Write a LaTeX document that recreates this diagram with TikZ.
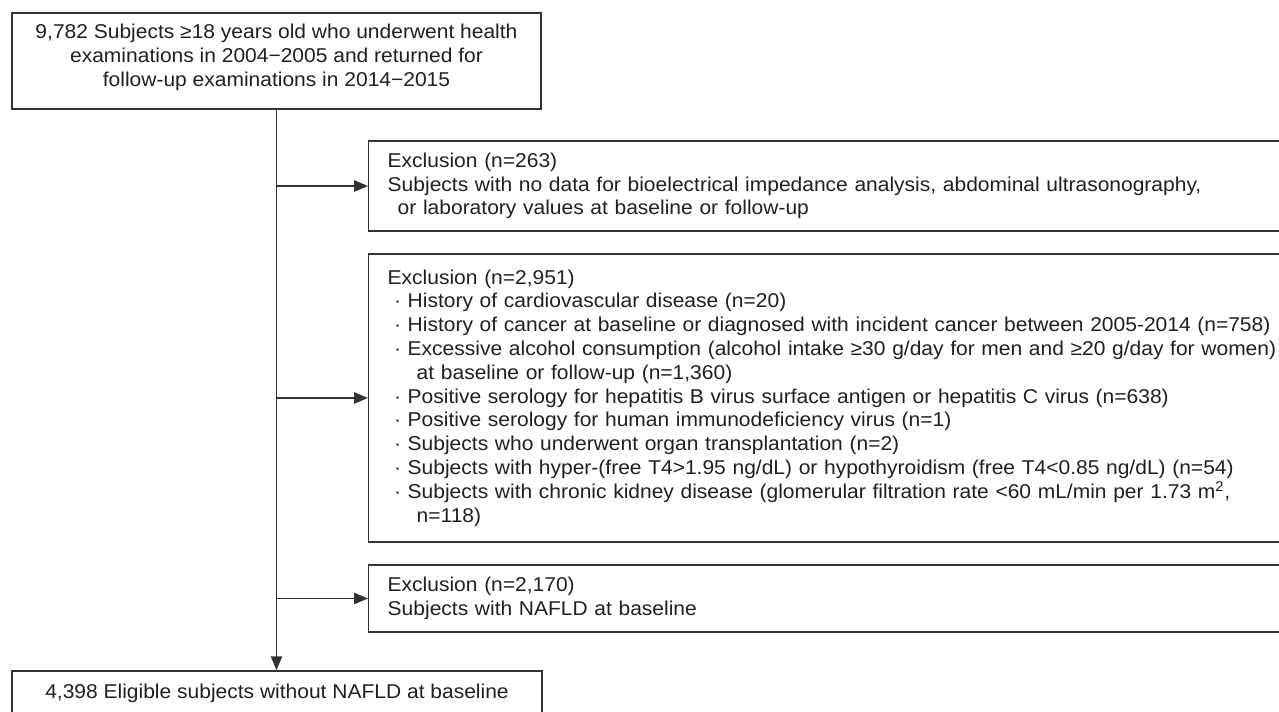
\documentclass[tikz,border=0pt]{standalone}
\usepackage{fontspec}
\setmainfont[FakeStretch=1.05]{Liberation Sans}
\usetikzlibrary{arrows.meta}
\definecolor{linec}{HTML}{333333}
\definecolor{txtc}{HTML}{231F20}
\newcommand\fs{\fontsize{15pt}{17.85pt}\selectfont}
\newcommand\bul{\makebox[1em]{·}}
\begin{document}
\begin{tikzpicture}[x=0.75pt,y=-0.75pt,
  box/.style={draw=linec, line width=1.1pt, fill=white, inner sep=0pt, text=txtc, font=\fs},
  exbox/.style={box, anchor=west, align=left, text width=720pt, inner xsep=14.25pt},
  flow/.style={draw=linec, line width=1.1pt},
  arr/.style={flow, -{Triangle[length=10.5pt,width=8.5pt]}}]
\useasboundingbox (0,0) rectangle (1279,711);
\fill[white] (0,0) rectangle (1279,711);
\clip (0,0) rectangle (1279,711);
\node[box, minimum width=396.75pt, minimum height=72pt, align=center, text depth=9pt] (top) at (276.5,61)
  {9,782 Subjects ≥18 years old who underwent health\\examinations in 2004−2005 and returned for\\follow-up examinations in 2014−2015};
\node[box, minimum width=397.5pt, minimum height=33pt] (res) at (277,693)
  {4,398 Eligible subjects without NAFLD at baseline};
\node[exbox, minimum height=67.5pt] (ex1) at (368,186)
  {Exclusion (n=263)\\
   Subjects with no data for bioelectrical impedance analysis, abdominal ultrasonography,\\
   \hspace*{0.5em}or laboratory values at baseline or follow-up};
\node[exbox, minimum height=216pt] (ex2) at (368,398)
  {Exclusion (n=2,951)\\
   \bul History of cardiovascular disease (n=20)\\
   \bul History of cancer at baseline or diagnosed with incident cancer between 2005-2014 (n=758)\\
   \bul Excessive alcohol consumption (alcohol intake ≥30 g/day for men and ≥20 g/day for women)\\
   \hspace*{1.45em}at baseline or follow-up (n=1,360)\\
   \bul Positive serology for hepatitis B virus surface antigen or hepatitis C virus (n=638)\\
   \bul Positive serology for human immunodeficiency virus (n=1)\\
   \bul Subjects who underwent organ transplantation (n=2)\\
   \bul Subjects with hyper-(free T4>1.95 ng/dL) or hypothyroidism (free T4<0.85 ng/dL) (n=54)\\
   \bul Subjects with chronic kidney disease (glomerular filtration rate <60 mL/min per 1.73 m\textsuperscript{2},\\
   \hspace*{1.45em}n=118)};
\node[exbox, minimum height=50.25pt] (ex3) at (368,598.5)
  {Exclusion (n=2,170)\\
   Subjects with NAFLD at baseline};
\draw[arr] (top.south) -- (top.south |- res.north);
\draw[arr] (top.south |- ex1.west) -- (ex1.west);
\draw[arr] (top.south |- ex2.west) -- (ex2.west);
\draw[arr] (top.south |- ex3.west) -- (ex3.west);
\end{tikzpicture}
\end{document}
